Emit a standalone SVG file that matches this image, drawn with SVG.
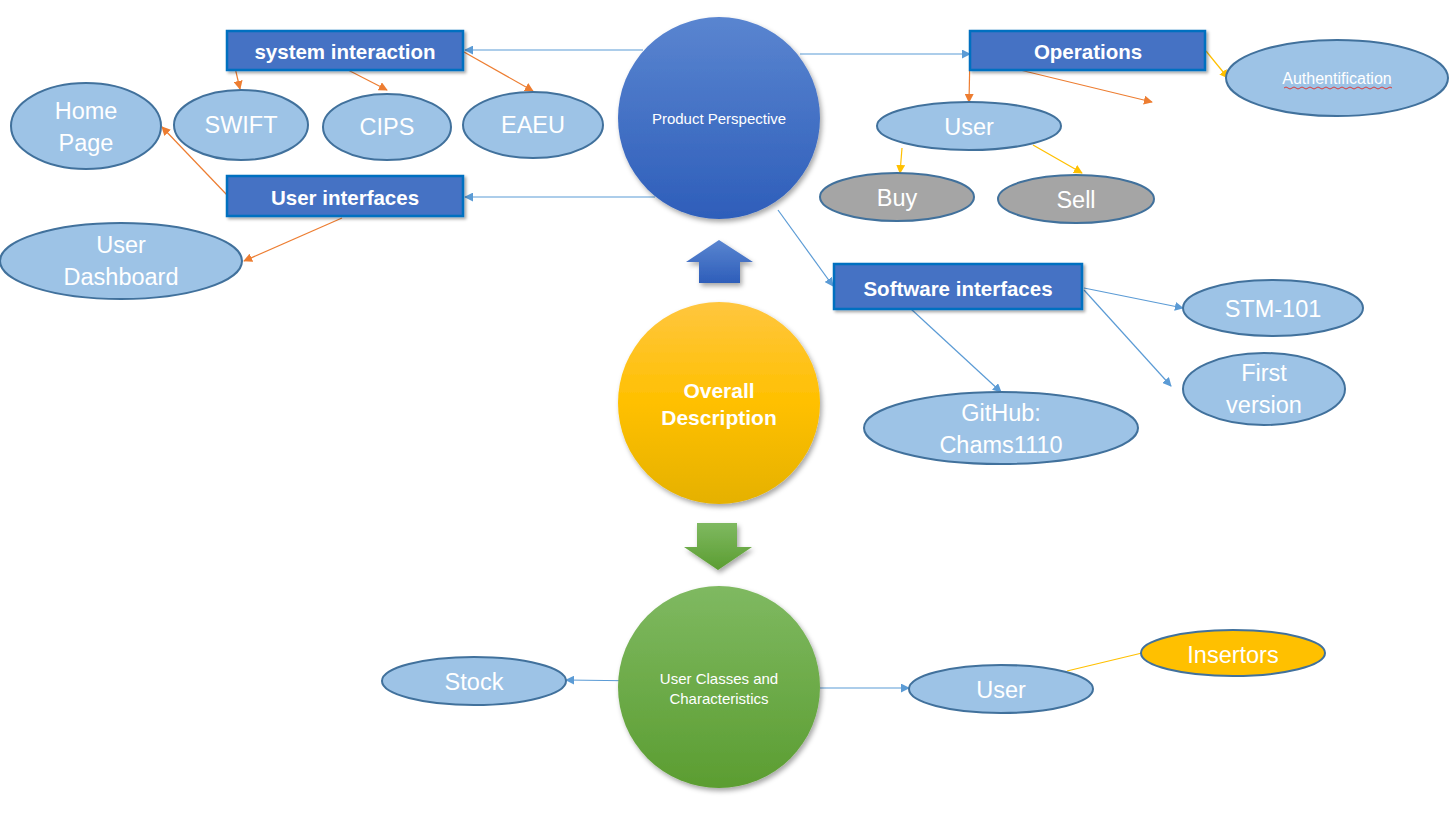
<svg xmlns="http://www.w3.org/2000/svg" width="1450" height="814" viewBox="0 0 1450 814">
<defs>
<linearGradient id="gBlue" x1="0" y1="0" x2="0" y2="1"><stop offset="0" stop-color="#5a85d0"/><stop offset="1" stop-color="#2e5eba"/></linearGradient>
<linearGradient id="gGold" x1="0" y1="0" x2="0" y2="1"><stop offset="0" stop-color="#ffc63f"/><stop offset="0.5" stop-color="#ffc000"/><stop offset="1" stop-color="#e5b100"/></linearGradient>
<linearGradient id="gGreen" x1="0" y1="0" x2="0" y2="1"><stop offset="0" stop-color="#7fb961"/><stop offset="1" stop-color="#5b9d31"/></linearGradient>
<filter id="sh" x="-20%" y="-20%" width="140%" height="140%"><feDropShadow dx="2" dy="3" stdDeviation="2.5" flood-color="#000" flood-opacity="0.35"/></filter>
<filter id="shs" x="-10%" y="-20%" width="120%" height="140%"><feDropShadow dx="2" dy="2" stdDeviation="1.5" flood-color="#000" flood-opacity="0.35"/></filter>
<marker id="mB" viewBox="0 0 10 10" refX="9" refY="5" markerWidth="9" markerHeight="9" markerUnits="userSpaceOnUse" orient="auto"><path d="M0,0 L10,5 L0,10 z" fill="#5b9bd5"/></marker>
<marker id="mO" viewBox="0 0 10 10" refX="9" refY="5" markerWidth="9" markerHeight="9" markerUnits="userSpaceOnUse" orient="auto"><path d="M0,0 L10,5 L0,10 z" fill="#ed7d31"/></marker>
<marker id="mY" viewBox="0 0 10 10" refX="9" refY="5" markerWidth="9" markerHeight="9" markerUnits="userSpaceOnUse" orient="auto"><path d="M0,0 L10,5 L0,10 z" fill="#ffc000"/></marker>
</defs>
<style>
.ell{fill:#9dc3e6;stroke:#41719c;stroke-width:2}
.gray{fill:#a5a5a5;stroke:#41719c;stroke-width:2}
.gold{fill:#ffc000;stroke:#41719c;stroke-width:2}
.box{fill:#4472c4;stroke:#0070c0;stroke-width:2.5}
.t{font-family:"Liberation Sans",Arial,sans-serif;fill:#fff;text-anchor:middle;dominant-baseline:central}
.big{font-size:23.5px}
.bt{font-size:20.5px;font-weight:bold}
.cb{stroke:#5b9bd5;stroke-width:1.2;fill:none;marker-end:url(#mB)}
.co{stroke:#ed7d31;stroke-width:1.2;fill:none;marker-end:url(#mO)}
.cy{stroke:#ffc000;stroke-width:1.2;fill:none;marker-end:url(#mY)}
</style>
<rect width="1450" height="814" fill="#fff"/>

<g id="connectors">
<line class="cb" x1="643" y1="50" x2="465" y2="50"/>
<line class="cb" x1="655" y1="197" x2="465" y2="197"/>
<line class="cb" x1="800" y1="54" x2="970" y2="54"/>
<line class="cb" x1="778" y1="210" x2="833" y2="286"/>
<line class="co" x1="229" y1="42" x2="240" y2="89"/>
<line class="co" x1="348" y1="70" x2="387" y2="90"/>
<line class="co" x1="464" y1="52" x2="533" y2="91"/>
<line class="co" x1="227" y1="195" x2="162" y2="127"/>
<line class="co" x1="342" y1="218" x2="244" y2="261"/>
<line class="co" x1="970" y1="52" x2="969" y2="102"/>
<line class="co" x1="1020" y1="70" x2="1152" y2="102"/>
<line class="cy" x1="1206" y1="51" x2="1228" y2="78"/>
<line class="cy" x1="902" y1="148" x2="900" y2="173"/>
<line class="cy" x1="1033" y1="145" x2="1082" y2="173"/>
<line class="cb" x1="1084" y1="288" x2="1183" y2="308"/>
<line class="cb" x1="1084" y1="290" x2="1171" y2="386"/>
<line class="cb" x1="911" y1="309" x2="1001" y2="392"/>
<line class="cb" x1="645" y1="681" x2="566" y2="680" stroke-width="1.8"/>
<line class="cb" x1="820" y1="688" x2="909" y2="688"/>
<line stroke="#ffc000" stroke-width="1.2" x1="1067" y1="671" x2="1142" y2="653"/>
</g>

<g id="product-perspective"><circle cx="719" cy="118" r="101" fill="url(#gBlue)" filter="url(#sh)"/><text class="t" x="719" y="118" font-size="15">Product Perspective</text></g>
<g id="arrow-up"><path d="M719,240 L753,262 L740,262 L740,283 L699,283 L699,262 L686,262 Z" fill="url(#gBlue)" filter="url(#sh)"/></g>
<g id="overall-description"><circle cx="719" cy="403" r="101" fill="url(#gGold)" filter="url(#sh)"/><text class="t" x="719" y="390" font-size="21" font-weight="bold">Overall</text><text class="t" x="719" y="417" font-size="21" font-weight="bold">Description</text></g>
<g id="arrow-down"><path d="M697,523 L737,523 L737,547 L752,547 L718,570 L684,547 L697,547 Z" fill="url(#gGreen)" filter="url(#sh)"/></g>
<g id="user-classes"><circle cx="719" cy="687" r="101" fill="url(#gGreen)" filter="url(#sh)"/><text class="t" x="719" y="678" font-size="15">User Classes and</text><text class="t" x="719" y="698" font-size="15">Characteristics</text></g>

<g id="system-interaction"><rect class="box" x="227" y="31" width="236" height="39" filter="url(#shs)"/><text class="t bt" x="345" y="51">system interaction</text></g>
<g id="user-interfaces"><rect class="box" x="227" y="176" width="236" height="40" filter="url(#shs)"/><text class="t bt" x="345" y="197">User interfaces</text></g>
<g id="operations"><rect class="box" x="970" y="31" width="235" height="39" filter="url(#shs)"/><text class="t bt" x="1088" y="51">Operations</text></g>
<g id="software-interfaces"><rect class="box" x="834" y="264" width="248" height="45" filter="url(#shs)"/><text class="t bt" x="958" y="288">Software interfaces</text></g>

<g id="home-page"><ellipse class="ell" cx="86" cy="126" rx="75" ry="43"/><text class="t big" x="86" y="111">Home</text><text class="t big" x="86" y="143">Page</text></g>
<g id="swift"><ellipse class="ell" cx="241" cy="125" rx="67" ry="35"/><text class="t big" x="241" y="125">SWIFT</text></g>
<g id="cips"><ellipse class="ell" cx="387" cy="127" rx="64" ry="33"/><text class="t big" x="387" y="127">CIPS</text></g>
<g id="eaeu"><ellipse class="ell" cx="533" cy="125" rx="70" ry="33"/><text class="t big" x="533" y="125">EAEU</text></g>
<g id="user-dashboard"><ellipse class="ell" cx="121" cy="261" rx="121" ry="38"/><text class="t big" x="121" y="245">User</text><text class="t big" x="121" y="277">Dashboard</text></g>
<g id="user-top"><ellipse class="ell" cx="969" cy="126" rx="92" ry="24"/><text class="t big" x="969" y="127">User</text></g>
<g id="buy"><ellipse class="gray" cx="897" cy="197" rx="77" ry="24"/><text class="t big" x="897" y="198">Buy</text></g>
<g id="sell"><ellipse class="gray" cx="1076" cy="199" rx="78" ry="24"/><text class="t big" x="1076" y="200">Sell</text></g>
<g id="authentification"><ellipse class="ell" cx="1337" cy="78" rx="111" ry="38"/><text class="t" x="1337" y="78" font-size="16">Authentification</text><path d="M1284,88 q2,-2 4,0 t4,0 t4,0 t4,0 t4,0 t4,0 t4,0 t4,0 t4,0 t4,0 t4,0 t4,0 t4,0 t4,0 t4,0 t4,0 t4,0 t4,0 t4,0 t4,0 t4,0 t4,0 t4,0 t4,0 t4,0 t4,0 t4,0" fill="none" stroke="#e0302a" stroke-width="0.9"/></g>
<g id="stm-101"><ellipse class="ell" cx="1273" cy="308" rx="90" ry="28"/><text class="t big" x="1273" y="309">STM-101</text></g>
<g id="first-version"><ellipse class="ell" cx="1264" cy="389" rx="81" ry="36"/><text class="t big" x="1264" y="373">First</text><text class="t big" x="1264" y="405">version</text></g>
<g id="github"><ellipse class="ell" cx="1001" cy="428" rx="137" ry="36"/><text class="t big" x="1001" y="413">GitHub:</text><text class="t big" x="1001" y="445">Chams1110</text></g>
<g id="stock"><ellipse class="ell" cx="474" cy="681" rx="92" ry="24"/><text class="t big" x="474" y="682">Stock</text></g>
<g id="user-bottom"><ellipse class="ell" cx="1001" cy="689" rx="92" ry="24"/><text class="t big" x="1001" y="690">User</text></g>
<g id="insertors"><ellipse class="gold" cx="1233" cy="653" rx="92" ry="23"/><text class="t big" x="1233" y="655">Insertors</text></g>
</svg>
